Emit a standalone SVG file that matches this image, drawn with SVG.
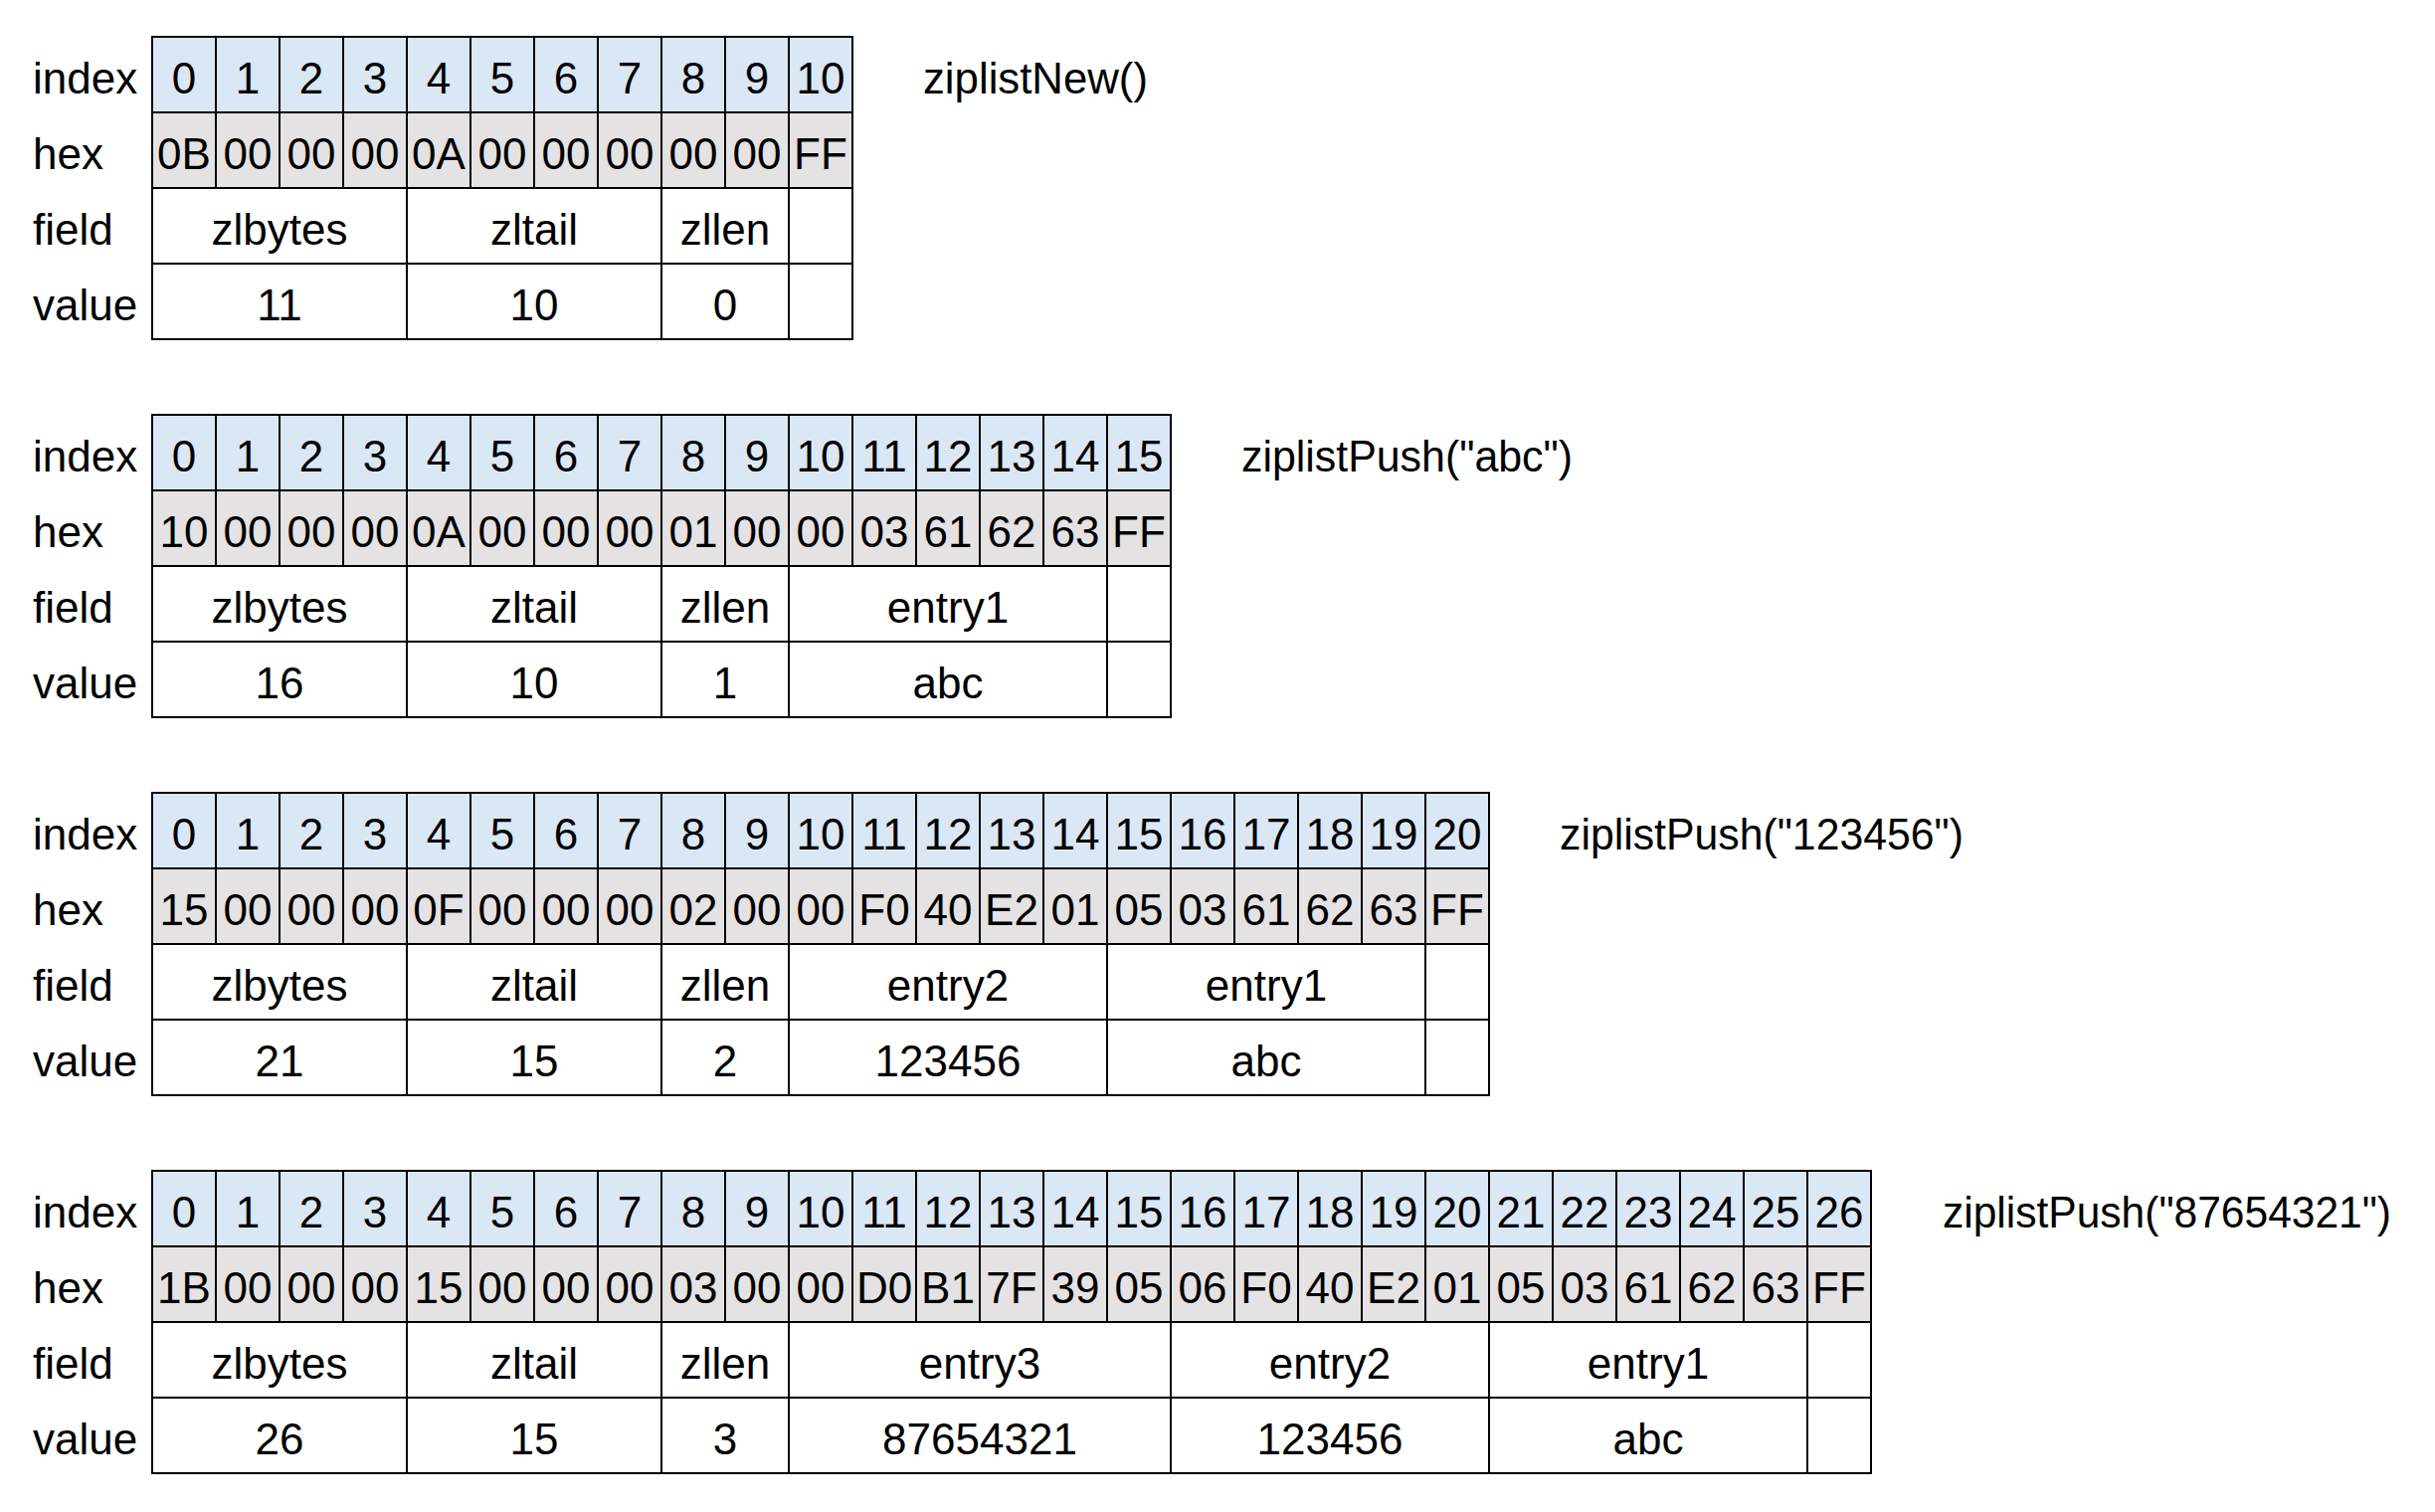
<svg xmlns="http://www.w3.org/2000/svg" width="2448" height="1520" viewBox="0 0 2448 1520">
<style>
.bg{fill:#ffffff}
.i{fill:#DAE7F5;stroke:#000;stroke-width:2}
.h{fill:#E4E2E3;stroke:#000;stroke-width:2}
.c{fill:#ffffff;stroke:#000;stroke-width:2}
text{font-family:"Liberation Sans",Arial,sans-serif;font-size:44px;fill:#000}
.m{text-anchor:middle}
.l{text-anchor:start}
</style>
<defs>
<g id="idx11">
<rect class="i" x="153" y="0" width="64" height="76"/><rect class="i" x="217" y="0" width="64" height="76"/><rect class="i" x="281" y="0" width="64" height="76"/><rect class="i" x="345" y="0" width="64" height="76"/><rect class="i" x="409" y="0" width="64" height="76"/><rect class="i" x="473" y="0" width="64" height="76"/><rect class="i" x="537" y="0" width="64" height="76"/><rect class="i" x="601" y="0" width="64" height="76"/><rect class="i" x="665" y="0" width="64" height="76"/><rect class="i" x="729" y="0" width="64" height="76"/><rect class="i" x="793" y="0" width="64" height="76"/>
<text class="m" x="185" y="56.5">0</text><text class="m" x="249" y="56.5">1</text><text class="m" x="313" y="56.5">2</text><text class="m" x="377" y="56.5">3</text><text class="m" x="441" y="56.5">4</text><text class="m" x="505" y="56.5">5</text><text class="m" x="569" y="56.5">6</text><text class="m" x="633" y="56.5">7</text><text class="m" x="697" y="56.5">8</text><text class="m" x="761" y="56.5">9</text><text class="m" x="825" y="56.5">10</text>
</g>
<g id="labels">
<text class="l" x="33" y="56.5">index</text>
<text class="l" x="33" y="132.5">hex</text>
<text class="l" x="33" y="208.5">field</text>
<text class="l" x="33" y="284.5">value</text>
</g>
<g id="hexbase">
<rect class="h" x="153" y="76" width="64" height="76"/><rect class="h" x="217" y="76" width="64" height="76"/><rect class="h" x="281" y="76" width="64" height="76"/><rect class="h" x="345" y="76" width="64" height="76"/><rect class="h" x="409" y="76" width="64" height="76"/><rect class="h" x="473" y="76" width="64" height="76"/><rect class="h" x="537" y="76" width="64" height="76"/><rect class="h" x="601" y="76" width="64" height="76"/><rect class="h" x="665" y="76" width="64" height="76"/><rect class="h" x="729" y="76" width="64" height="76"/><rect class="h" x="793" y="76" width="64" height="76"/>
</g>
<g id="hdrfields">
<rect class="c" x="153" y="152" width="256" height="76"/><rect class="c" x="409" y="152" width="256" height="76"/><rect class="c" x="665" y="152" width="128" height="76"/>
<rect class="c" x="153" y="228" width="256" height="76"/><rect class="c" x="409" y="228" width="256" height="76"/><rect class="c" x="665" y="228" width="128" height="76"/>
<text class="m" x="281" y="208.5">zlbytes</text><text class="m" x="537" y="208.5">zltail</text><text class="m" x="729" y="208.5">zllen</text>
</g>
</defs>

<rect class="bg" x="0" y="0" width="2448" height="1520"/>

<!-- Table 1: ziplistNew() -->
<g id="table1" transform="translate(0,37)">
<use href="#labels"/>
<use href="#idx11"/>
<use href="#hexbase"/>
<text class="m" x="185" y="132.5">0B</text><text class="m" x="249" y="132.5">00</text><text class="m" x="313" y="132.5">00</text><text class="m" x="377" y="132.5">00</text><text class="m" x="441" y="132.5">0A</text><text class="m" x="505" y="132.5">00</text><text class="m" x="569" y="132.5">00</text><text class="m" x="633" y="132.5">00</text><text class="m" x="697" y="132.5">00</text><text class="m" x="761" y="132.5">00</text><text class="m" x="825" y="132.5">FF</text>
<use href="#hdrfields"/>
<rect class="c" x="793" y="152" width="64" height="76"/>
<rect class="c" x="793" y="228" width="64" height="76"/>
<text class="m" x="281" y="284.5">11</text><text class="m" x="537" y="284.5">10</text><text class="m" x="729" y="284.5">0</text>
<text class="l" x="928" y="56.5" textLength="226" lengthAdjust="spacingAndGlyphs">ziplistNew()</text>
</g>

<!-- Table 2: ziplistPush("abc") -->
<g id="table2" transform="translate(0,417)">
<use href="#labels"/>
<use href="#idx11"/>
<rect class="i" x="857" y="0" width="64" height="76"/><rect class="i" x="921" y="0" width="64" height="76"/><rect class="i" x="985" y="0" width="64" height="76"/><rect class="i" x="1049" y="0" width="64" height="76"/><rect class="i" x="1113" y="0" width="64" height="76"/>
<text class="m" x="889" y="56.5">11</text><text class="m" x="953" y="56.5">12</text><text class="m" x="1017" y="56.5">13</text><text class="m" x="1081" y="56.5">14</text><text class="m" x="1145" y="56.5">15</text>
<use href="#hexbase"/>
<rect class="h" x="857" y="76" width="64" height="76"/><rect class="h" x="921" y="76" width="64" height="76"/><rect class="h" x="985" y="76" width="64" height="76"/><rect class="h" x="1049" y="76" width="64" height="76"/><rect class="h" x="1113" y="76" width="64" height="76"/>
<text class="m" x="185" y="132.5">10</text><text class="m" x="249" y="132.5">00</text><text class="m" x="313" y="132.5">00</text><text class="m" x="377" y="132.5">00</text><text class="m" x="441" y="132.5">0A</text><text class="m" x="505" y="132.5">00</text><text class="m" x="569" y="132.5">00</text><text class="m" x="633" y="132.5">00</text><text class="m" x="697" y="132.5">01</text><text class="m" x="761" y="132.5">00</text><text class="m" x="825" y="132.5">00</text><text class="m" x="889" y="132.5">03</text><text class="m" x="953" y="132.5">61</text><text class="m" x="1017" y="132.5">62</text><text class="m" x="1081" y="132.5">63</text><text class="m" x="1145" y="132.5">FF</text>
<use href="#hdrfields"/>
<rect class="c" x="793" y="152" width="320" height="76"/><rect class="c" x="1113" y="152" width="64" height="76"/>
<rect class="c" x="793" y="228" width="320" height="76"/><rect class="c" x="1113" y="228" width="64" height="76"/>
<text class="m" x="953" y="208.5">entry1</text>
<text class="m" x="281" y="284.5">16</text><text class="m" x="537" y="284.5">10</text><text class="m" x="729" y="284.5">1</text><text class="m" x="953" y="284.5">abc</text>
<text class="l" x="1248" y="56.5" textLength="333" lengthAdjust="spacingAndGlyphs">ziplistPush("abc")</text>
</g>

<!-- Table 3: ziplistPush("123456") -->
<g id="table3" transform="translate(0,797)">
<use href="#labels"/>
<use href="#idx11"/>
<rect class="i" x="857" y="0" width="64" height="76"/><rect class="i" x="921" y="0" width="64" height="76"/><rect class="i" x="985" y="0" width="64" height="76"/><rect class="i" x="1049" y="0" width="64" height="76"/><rect class="i" x="1113" y="0" width="64" height="76"/><rect class="i" x="1177" y="0" width="64" height="76"/><rect class="i" x="1241" y="0" width="64" height="76"/><rect class="i" x="1305" y="0" width="64" height="76"/><rect class="i" x="1369" y="0" width="64" height="76"/><rect class="i" x="1433" y="0" width="64" height="76"/>
<text class="m" x="889" y="56.5">11</text><text class="m" x="953" y="56.5">12</text><text class="m" x="1017" y="56.5">13</text><text class="m" x="1081" y="56.5">14</text><text class="m" x="1145" y="56.5">15</text><text class="m" x="1209" y="56.5">16</text><text class="m" x="1273" y="56.5">17</text><text class="m" x="1337" y="56.5">18</text><text class="m" x="1401" y="56.5">19</text><text class="m" x="1465" y="56.5">20</text>
<use href="#hexbase"/>
<rect class="h" x="857" y="76" width="64" height="76"/><rect class="h" x="921" y="76" width="64" height="76"/><rect class="h" x="985" y="76" width="64" height="76"/><rect class="h" x="1049" y="76" width="64" height="76"/><rect class="h" x="1113" y="76" width="64" height="76"/><rect class="h" x="1177" y="76" width="64" height="76"/><rect class="h" x="1241" y="76" width="64" height="76"/><rect class="h" x="1305" y="76" width="64" height="76"/><rect class="h" x="1369" y="76" width="64" height="76"/><rect class="h" x="1433" y="76" width="64" height="76"/>
<text class="m" x="185" y="132.5">15</text><text class="m" x="249" y="132.5">00</text><text class="m" x="313" y="132.5">00</text><text class="m" x="377" y="132.5">00</text><text class="m" x="441" y="132.5">0F</text><text class="m" x="505" y="132.5">00</text><text class="m" x="569" y="132.5">00</text><text class="m" x="633" y="132.5">00</text><text class="m" x="697" y="132.5">02</text><text class="m" x="761" y="132.5">00</text><text class="m" x="825" y="132.5">00</text><text class="m" x="889" y="132.5">F0</text><text class="m" x="953" y="132.5">40</text><text class="m" x="1017" y="132.5">E2</text><text class="m" x="1081" y="132.5">01</text><text class="m" x="1145" y="132.5">05</text><text class="m" x="1209" y="132.5">03</text><text class="m" x="1273" y="132.5">61</text><text class="m" x="1337" y="132.5">62</text><text class="m" x="1401" y="132.5">63</text><text class="m" x="1465" y="132.5">FF</text>
<use href="#hdrfields"/>
<rect class="c" x="793" y="152" width="320" height="76"/><rect class="c" x="1113" y="152" width="320" height="76"/><rect class="c" x="1433" y="152" width="64" height="76"/>
<rect class="c" x="793" y="228" width="320" height="76"/><rect class="c" x="1113" y="228" width="320" height="76"/><rect class="c" x="1433" y="228" width="64" height="76"/>
<text class="m" x="953" y="208.5">entry2</text><text class="m" x="1273" y="208.5">entry1</text>
<text class="m" x="281" y="284.5">21</text><text class="m" x="537" y="284.5">15</text><text class="m" x="729" y="284.5">2</text><text class="m" x="953" y="284.5">123456</text><text class="m" x="1273" y="284.5">abc</text>
<text class="l" x="1568" y="56.5" textLength="406" lengthAdjust="spacingAndGlyphs">ziplistPush("123456")</text>
</g>

<!-- Table 4: ziplistPush("87654321") -->
<g id="table4" transform="translate(0,1177)">
<use href="#labels"/>
<use href="#idx11"/>
<rect class="i" x="857" y="0" width="64" height="76"/><rect class="i" x="921" y="0" width="64" height="76"/><rect class="i" x="985" y="0" width="64" height="76"/><rect class="i" x="1049" y="0" width="64" height="76"/><rect class="i" x="1113" y="0" width="64" height="76"/><rect class="i" x="1177" y="0" width="64" height="76"/><rect class="i" x="1241" y="0" width="64" height="76"/><rect class="i" x="1305" y="0" width="64" height="76"/><rect class="i" x="1369" y="0" width="64" height="76"/><rect class="i" x="1433" y="0" width="64" height="76"/><rect class="i" x="1497" y="0" width="64" height="76"/><rect class="i" x="1561" y="0" width="64" height="76"/><rect class="i" x="1625" y="0" width="64" height="76"/><rect class="i" x="1689" y="0" width="64" height="76"/><rect class="i" x="1753" y="0" width="64" height="76"/><rect class="i" x="1817" y="0" width="64" height="76"/>
<text class="m" x="889" y="56.5">11</text><text class="m" x="953" y="56.5">12</text><text class="m" x="1017" y="56.5">13</text><text class="m" x="1081" y="56.5">14</text><text class="m" x="1145" y="56.5">15</text><text class="m" x="1209" y="56.5">16</text><text class="m" x="1273" y="56.5">17</text><text class="m" x="1337" y="56.5">18</text><text class="m" x="1401" y="56.5">19</text><text class="m" x="1465" y="56.5">20</text><text class="m" x="1529" y="56.5">21</text><text class="m" x="1593" y="56.5">22</text><text class="m" x="1657" y="56.5">23</text><text class="m" x="1721" y="56.5">24</text><text class="m" x="1785" y="56.5">25</text><text class="m" x="1849" y="56.5">26</text>
<use href="#hexbase"/>
<rect class="h" x="857" y="76" width="64" height="76"/><rect class="h" x="921" y="76" width="64" height="76"/><rect class="h" x="985" y="76" width="64" height="76"/><rect class="h" x="1049" y="76" width="64" height="76"/><rect class="h" x="1113" y="76" width="64" height="76"/><rect class="h" x="1177" y="76" width="64" height="76"/><rect class="h" x="1241" y="76" width="64" height="76"/><rect class="h" x="1305" y="76" width="64" height="76"/><rect class="h" x="1369" y="76" width="64" height="76"/><rect class="h" x="1433" y="76" width="64" height="76"/><rect class="h" x="1497" y="76" width="64" height="76"/><rect class="h" x="1561" y="76" width="64" height="76"/><rect class="h" x="1625" y="76" width="64" height="76"/><rect class="h" x="1689" y="76" width="64" height="76"/><rect class="h" x="1753" y="76" width="64" height="76"/><rect class="h" x="1817" y="76" width="64" height="76"/>
<text class="m" x="185" y="132.5">1B</text><text class="m" x="249" y="132.5">00</text><text class="m" x="313" y="132.5">00</text><text class="m" x="377" y="132.5">00</text><text class="m" x="441" y="132.5">15</text><text class="m" x="505" y="132.5">00</text><text class="m" x="569" y="132.5">00</text><text class="m" x="633" y="132.5">00</text><text class="m" x="697" y="132.5">03</text><text class="m" x="761" y="132.5">00</text><text class="m" x="825" y="132.5">00</text><text class="m" x="889" y="132.5">D0</text><text class="m" x="953" y="132.5">B1</text><text class="m" x="1017" y="132.5">7F</text><text class="m" x="1081" y="132.5">39</text><text class="m" x="1145" y="132.5">05</text><text class="m" x="1209" y="132.5">06</text><text class="m" x="1273" y="132.5">F0</text><text class="m" x="1337" y="132.5">40</text><text class="m" x="1401" y="132.5">E2</text><text class="m" x="1465" y="132.5">01</text><text class="m" x="1529" y="132.5">05</text><text class="m" x="1593" y="132.5">03</text><text class="m" x="1657" y="132.5">61</text><text class="m" x="1721" y="132.5">62</text><text class="m" x="1785" y="132.5">63</text><text class="m" x="1849" y="132.5">FF</text>
<use href="#hdrfields"/>
<rect class="c" x="793" y="152" width="384" height="76"/><rect class="c" x="1177" y="152" width="320" height="76"/><rect class="c" x="1497" y="152" width="320" height="76"/><rect class="c" x="1817" y="152" width="64" height="76"/>
<rect class="c" x="793" y="228" width="384" height="76"/><rect class="c" x="1177" y="228" width="320" height="76"/><rect class="c" x="1497" y="228" width="320" height="76"/><rect class="c" x="1817" y="228" width="64" height="76"/>
<text class="m" x="985" y="208.5">entry3</text><text class="m" x="1337" y="208.5">entry2</text><text class="m" x="1657" y="208.5">entry1</text>
<text class="m" x="281" y="284.5">26</text><text class="m" x="537" y="284.5">15</text><text class="m" x="729" y="284.5">3</text><text class="m" x="985" y="284.5">87654321</text><text class="m" x="1337" y="284.5">123456</text><text class="m" x="1657" y="284.5">abc</text>
<text class="l" x="1953" y="56.5" textLength="451" lengthAdjust="spacingAndGlyphs">ziplistPush("87654321")</text>
</g>

<g id="connectors"/>
</svg>
